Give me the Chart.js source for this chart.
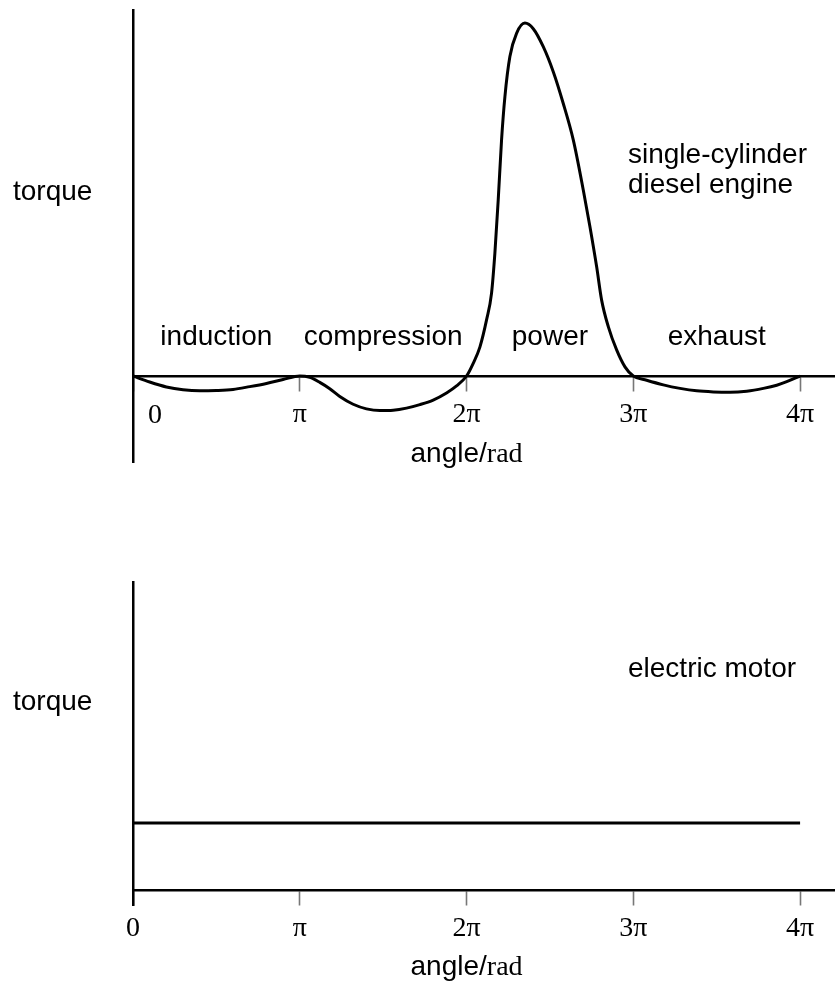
<!DOCTYPE html>
<html>
<head>
<meta charset="utf-8">
<script src="https://cdn.jsdelivr.net/npm/chart.js@4/dist/chart.umd.min.js"></script>
<style>
  html, body { margin: 0; padding: 0; background: #fff; }
  body { width: 835px; height: 984px; position: relative; overflow: hidden; }
  canvas { position: absolute; left: 0; }
  #top { top: 0; }
  #bottom { top: 490px; }
</style>
</head>
<body>
<canvas id="top" width="835" height="490"></canvas>
<canvas id="bottom" width="835" height="494"></canvas>
<script>
// ---- data (angle in units of pi, torque in arbitrary units: peak = 100) ----
const angleTicks = [0, 1, 2, 3, 4];
const angleTickLabels = ['0', 'π', '2π', '3π', '4π'];

const dieselAngle = [
  0, 0.1, 0.2, 0.3, 0.4, 0.5, 0.6, 0.7, 0.8, 0.9, 1.0,
  1.06, 1.12, 1.18, 1.24, 1.32, 1.40, 1.48, 1.56, 1.64, 1.72, 1.80, 1.88, 1.94, 2.0,
  2.04, 2.08, 2.12, 2.15, 2.17, 2.19, 2.21, 2.23, 2.26, 2.30, 2.35, 2.40, 2.46, 2.52,
  2.58, 2.64, 2.70, 2.74, 2.78, 2.81, 2.85, 2.90, 2.95, 3.0,
  3.08, 3.18, 3.28, 3.38, 3.48, 3.58, 3.68, 3.78, 3.86, 3.92, 4.0
];
const dieselTorque = [
  0, -1.7, -3.1, -3.9, -4.2, -4.1, -3.8, -3.0, -2.1, -1.0, 0,
  -0.4, -1.8, -3.6, -5.8, -8.0, -9.3, -9.8, -9.7, -9.1, -8.1, -6.8, -4.8, -2.8, 0,
  3.6, 8.2, 15.9, 23.5, 34.8, 49.9, 66.9, 79.1, 90.5, 97.1, 100, 98.4, 93.3, 86.2,
  77.2, 66.9, 52.7, 42.3, 31.0, 21.5, 14.0, 7.4, 2.6, 0,
  -1.2, -2.5, -3.5, -4.2, -4.5, -4.6, -4.3, -3.5, -2.6, -1.6, 0
];

const motorAngle = [0, 4];
const motorTorque = [19, 19];

const phaseLabels = ['induction', 'compression', 'power', 'exhaust'];
const phaseCentres = [0.5, 1.5, 2.5, 3.5];

const yLabel = 'torque';
const xLabelSans = 'angle/';
const xLabelSerif = 'rad';
const dieselTitle = ['single-cylinder', 'diesel engine'];
const motorTitle = 'electric motor';

// ---- styling ----
const SANS = '"Liberation Sans", Arial, sans-serif';
const SERIF = '"Liberation Serif", "Times New Roman", serif';
const TICK_FONT_SIZE = 28;
const TICK_LEN = 14;
const TICK_PAD = 8;
const TEXT_SIZE = 28;

function toPoints(xs, ys) { return xs.map((x, i) => ({ x: x, y: ys[i] })); }

function xScale(hideZero) {
  return {
    type: 'linear',
    position: { y: 0 },
    min: 0,
    max: 4.2094,
    afterBuildTicks: s => { s.ticks = angleTicks.map(v => ({ value: v })); },
    grid: {
      display: true, drawOnChartArea: false, drawTicks: true,
      tickLength: TICK_LEN, tickColor: '#777', tickWidth: 1.6
    },
    border: { display: true, color: '#000', width: 2.5 },
    ticks: {
      autoSkip: false, maxRotation: 0, padding: TICK_PAD,
      color: '#000',
      font: { family: SERIF, size: TICK_FONT_SIZE },
      callback: (v) => {
        const i = angleTicks.indexOf(v);
        if (hideZero && v === 0) return '';
        return i >= 0 ? angleTickLabels[i] : '';
      }
    }
  };
}

function yScale(min, max) {
  return {
    type: 'linear', position: 'left', min: min, max: max,
    grid: { display: true, drawOnChartArea: false, drawTicks: false },
    border: { display: true, color: '#000', width: 2.5 },
    ticks: { display: false }
  };
}

function drawAxisTitle(ctx, cx, baseline) {
  ctx.font = TEXT_SIZE + 'px ' + SANS;
  const w1 = ctx.measureText(xLabelSans).width;
  ctx.font = TEXT_SIZE + 'px ' + SERIF;
  const w2 = ctx.measureText(xLabelSerif).width;
  const left = cx - (w1 + w2) / 2;
  ctx.textAlign = 'left';
  ctx.textBaseline = 'alphabetic';
  ctx.font = TEXT_SIZE + 'px ' + SANS;
  ctx.fillText(xLabelSans, left, baseline);
  ctx.font = TEXT_SIZE + 'px ' + SERIF;
  ctx.fillText(xLabelSerif, left + w1, baseline);
}

const topText = {
  id: 'topText',
  afterDraw(chart) {
    const ctx = chart.ctx, x = chart.scales.x, y = chart.scales.y;
    const zero = y.getPixelForValue(0);
    ctx.save();
    ctx.fillStyle = '#000';
    ctx.textBaseline = 'alphabetic';
    ctx.font = TEXT_SIZE + 'px ' + SANS;
    ctx.textAlign = 'left';
    ctx.fillText(yLabel, 13, 200);
    ctx.fillText(dieselTitle[0], 628, 163);
    ctx.fillText(dieselTitle[1], 628, 193);
    ctx.textAlign = 'center';
    phaseLabels.forEach((t, i) => ctx.fillText(t, x.getPixelForValue(phaseCentres[i]), zero - 31));
    // "0" label moved off the vertical axis
    ctx.font = TICK_FONT_SIZE + 'px ' + SERIF;
    ctx.textBaseline = 'middle';
    const lh = TICK_FONT_SIZE * 1.2;
    ctx.fillText(angleTickLabels[0], x.getPixelForValue(0) + 22, zero + 1.25 + TICK_LEN + TICK_PAD + lh / 2);
    drawAxisTitle(ctx, x.getPixelForValue(2), zero + 86);
    ctx.restore();
  }
};

const bottomText = {
  id: 'bottomText',
  afterDraw(chart) {
    const ctx = chart.ctx, x = chart.scales.x, y = chart.scales.y;
    const zero = y.getPixelForValue(0);
    ctx.save();
    ctx.fillStyle = '#000';
    ctx.textBaseline = 'alphabetic';
    ctx.font = TEXT_SIZE + 'px ' + SANS;
    ctx.textAlign = 'left';
    ctx.fillText(yLabel, 13, 220);
    ctx.fillText(motorTitle, 628, 187);
    drawAxisTitle(ctx, x.getPixelForValue(2), zero + 85);
    ctx.restore();
  }
};

const common = {
  responsive: false,
  animation: false,
  devicePixelRatio: 1,
  plugins: { legend: { display: false }, tooltip: { enabled: false } },
  elements: { point: { radius: 0 } }
};

new Chart(document.getElementById('top'), {
  type: 'line',
  data: {
    datasets: [{
      data: toPoints(dieselAngle, dieselTorque),
      borderColor: '#000', borderWidth: 3,
      cubicInterpolationMode: 'monotone', fill: false
    }]
  },
  options: Object.assign({}, common, {
    layout: { padding: { top: 10, left: 133, right: 0, bottom: 28 } },
    scales: { x: xScale(true), y: yScale(-24.36, 103.7) }
  }),
  plugins: [topText]
});

new Chart(document.getElementById('bottom'), {
  type: 'line',
  data: {
    datasets: [{
      data: toPoints(motorAngle, motorTorque),
      borderColor: '#000', borderWidth: 3, fill: false
    }]
  },
  options: Object.assign({}, common, {
    layout: { padding: { top: 92, left: 133, right: 0, bottom: 79 } },
    scales: { x: xScale(false), y: yScale(-4.25, 87.25) }
  }),
  plugins: [bottomText]
});
</script>
</body>
</html>
